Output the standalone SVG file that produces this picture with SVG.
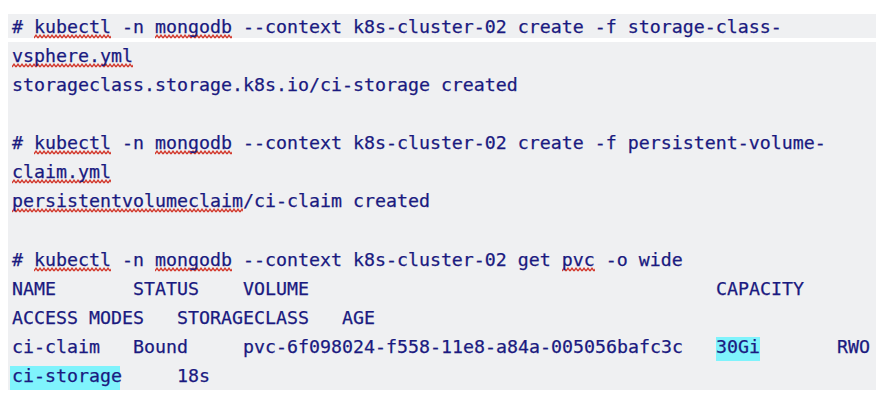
<svg xmlns="http://www.w3.org/2000/svg" width="880" height="404" viewBox="0 0 880 404">
<style>
text{font-family:"DejaVu Sans Mono","Liberation Mono",monospace;font-size:18.27px;fill:#1a1a80;stroke:#1a1a80;stroke-width:0.25;white-space:pre}
.bg{fill:#eff0f2}
.hl{fill:#7ff3fc}
.sq{fill:url(#sq)}
</style>
<defs>
<pattern id="sq" width="4" height="5" patternUnits="userSpaceOnUse">
<path d="M0,4 L2,1.2 L4,4" fill="none" stroke="#d23a2e" stroke-width="1.4"/>
</pattern>
</defs>
<rect width="880" height="404" fill="#ffffff"/>
<g id="background">
<rect class="bg" x="8" y="14" width="868" height="24"/>
<rect class="bg" x="8" y="42" width="868" height="348"/>
<rect class="hl" x="716" y="337" width="44" height="24"/>
<rect class="hl" x="10" y="366" width="110" height="24"/>
</g>
<g id="squiggles">
<g transform="translate(34,34)"><rect class="sq" width="77" height="5"/></g>
<g transform="translate(155,34)"><rect class="sq" width="77" height="5"/></g>
<g transform="translate(12,63)"><rect class="sq" width="121" height="5"/></g>
<g transform="translate(34,150)"><rect class="sq" width="77" height="5"/></g>
<g transform="translate(155,150)"><rect class="sq" width="77" height="5"/></g>
<g transform="translate(12,179)"><rect class="sq" width="99" height="5"/></g>
<g transform="translate(12,208)"><rect class="sq" width="231" height="5"/></g>
<g transform="translate(34,267)"><rect class="sq" width="77" height="5"/></g>
<g transform="translate(155,267)"><rect class="sq" width="77" height="5"/></g>
<g transform="translate(562,267)"><rect class="sq" width="33" height="5"/></g>
</g>
<g id="terminal-text">
<text x="12" y="33"># kubectl -n mongodb --context k8s-cluster-02 create -f storage-class-</text>
<text x="12" y="62">vsphere.yml</text>
<text x="12" y="91">storageclass.storage.k8s.io/ci-storage created</text>
<text x="12" y="149"># kubectl -n mongodb --context k8s-cluster-02 create -f persistent-volume-</text>
<text x="12" y="178">claim.yml</text>
<text x="12" y="207">persistentvolumeclaim/ci-claim created</text>
<text x="12" y="266"># kubectl -n mongodb --context k8s-cluster-02 get pvc -o wide</text>
<text y="295"><tspan x="12">NAME</tspan><tspan x="133">STATUS</tspan><tspan x="243">VOLUME</tspan><tspan x="716">CAPACITY</tspan></text>
<text y="324"><tspan x="12">ACCESS MODES</tspan><tspan x="177">STORAGECLASS</tspan><tspan x="342">AGE</tspan></text>
<text y="353"><tspan x="12">ci-claim</tspan><tspan x="133">Bound</tspan><tspan x="243">pvc-6f098024-f558-11e8-a84a-005056bafc3c</tspan><tspan x="716">30Gi</tspan><tspan x="837">RWO</tspan></text>
<text y="382"><tspan x="12">ci-storage</tspan><tspan x="177">18s</tspan></text>
</g>
</svg>
